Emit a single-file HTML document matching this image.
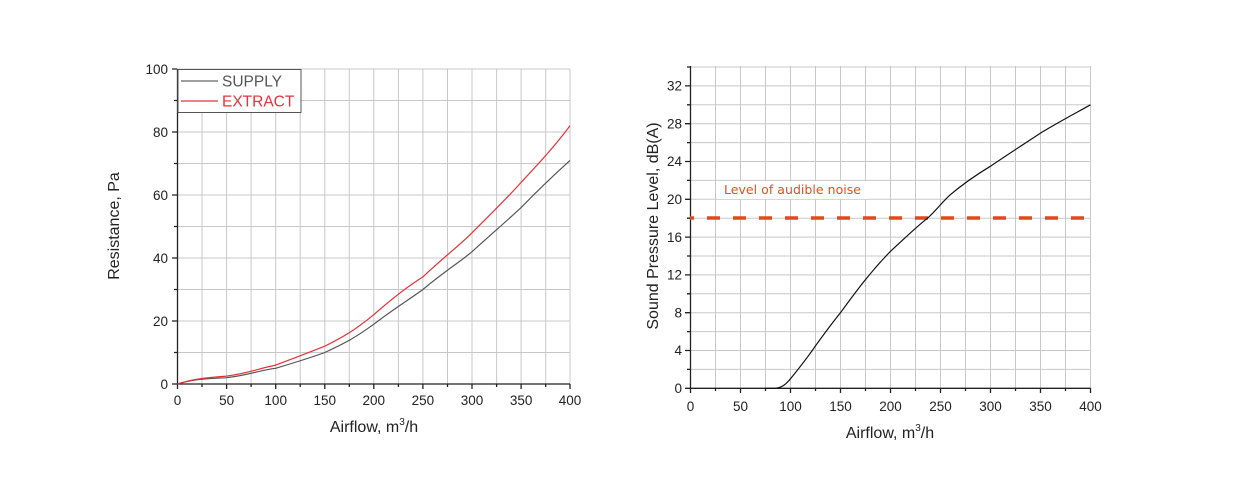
<!DOCTYPE html>
<html><head><meta charset="utf-8"><style>
html,body{margin:0;padding:0;background:#fff;}
svg{display:block;font-family:"Liberation Sans",Arial,sans-serif;}
</style></head><body>
<svg width="1237" height="503" viewBox="0 0 1237 503" xmlns="http://www.w3.org/2000/svg">
<!-- LEFT CHART -->
<g stroke="#c8c8c8" stroke-width="1">
<line x1="202" y1="69" x2="202" y2="384"/><line x1="226.6" y1="69" x2="226.6" y2="384"/><line x1="251.1" y1="69" x2="251.1" y2="384"/><line x1="275.7" y1="69" x2="275.7" y2="384"/><line x1="300.2" y1="69" x2="300.2" y2="384"/><line x1="324.8" y1="69" x2="324.8" y2="384"/><line x1="349.3" y1="69" x2="349.3" y2="384"/><line x1="373.8" y1="69" x2="373.8" y2="384"/><line x1="398.4" y1="69" x2="398.4" y2="384"/><line x1="422.9" y1="69" x2="422.9" y2="384"/><line x1="447.5" y1="69" x2="447.5" y2="384"/><line x1="472" y1="69" x2="472" y2="384"/><line x1="496.6" y1="69" x2="496.6" y2="384"/><line x1="521.1" y1="69" x2="521.1" y2="384"/><line x1="545.7" y1="69" x2="545.7" y2="384"/><line x1="570" y1="69" x2="570" y2="384"/>
<line x1="177" y1="352.5" x2="570" y2="352.5"/><line x1="177" y1="321" x2="570" y2="321"/><line x1="177" y1="289.5" x2="570" y2="289.5"/><line x1="177" y1="258" x2="570" y2="258"/><line x1="177" y1="226.5" x2="570" y2="226.5"/><line x1="177" y1="195" x2="570" y2="195"/><line x1="177" y1="163.5" x2="570" y2="163.5"/><line x1="177" y1="132" x2="570" y2="132"/><line x1="177" y1="100.5" x2="570" y2="100.5"/><line x1="177" y1="69" x2="570" y2="69"/>
</g>
<g stroke="#222" stroke-width="1.3" fill="none">
<line x1="177.5" y1="69" x2="177.5" y2="384"/><line x1="177" y1="384" x2="570" y2="384"/>
<path d="M172 69h5M172 132h5M172 195h5M172 258h5M172 321h5M172 384h5M174 100.5h3M174 163.5h3M174 226.5h3M174 289.5h3M174 352.5h3"/>
<path d="M177.5 384v5M226.6 384v5M275.7 384v5M324.8 384v5M373.8 384v5M422.9 384v5M472 384v5M521.1 384v5M570 384v5M202 384v3M251.1 384v3M300.2 384v3M349.3 384v3M398.4 384v3M447.5 384v3M496.6 384v3M545.7 384v3"/>
</g>
<g font-size="13.5" fill="#222" text-anchor="end">
<text x="168" y="74">100</text><text x="168" y="137">80</text><text x="168" y="200">60</text><text x="168" y="263">40</text><text x="168" y="326">20</text><text x="168" y="389">0</text>
</g>
<g font-size="13.5" fill="#222" text-anchor="middle">
<text x="177.5" y="405">0</text><text x="226.6" y="405">50</text><text x="275.7" y="405">100</text><text x="324.8" y="405">150</text><text x="373.8" y="405">200</text><text x="422.9" y="405">250</text><text x="472" y="405">300</text><text x="521.1" y="405">350</text><text x="570" y="405">400</text>
</g>
<text x="374" y="432" font-size="16" fill="#222" text-anchor="middle">Airflow, m<tspan font-size="10" dy="-7">3</tspan><tspan dy="7">/h</tspan></text>
<text transform="translate(119 226) rotate(-90)" font-size="16" fill="#222" text-anchor="middle">Resistance, Pa</text>
<path fill="none" stroke="#555" stroke-width="1.2" d="M177.5 384 C190 380,200 379,226.6 377.7 C250 375,260 370,275.7 368.3 C300 361,310 358,324.8 352.5 C345 343,355 338,373.8 324.2 C395 308,410 299,422.9 289.5 C445 271,460 262,472 251.7 C495 231,510 218,521.1 207.6 C540 188,555 174,570 160.4"/>
<path fill="none" stroke="#e8303a" stroke-width="1.2" d="M177.5 384 C190 380,200 378,226.6 376.1 C250 373,260 368,275.7 365.1 C300 356,310 352,324.8 346.2 C345 336,355 330,373.8 314.7 C395 296,410 285,422.9 276.9 C445 256,460 245,472 232.8 C495 210,510 195,521.1 182.4 C540 162,555 146,570 125.7"/>
<rect x="178" y="69.5" width="123" height="43" fill="#fff" stroke="#555" stroke-width="1"/>
<line x1="181" y1="81" x2="218" y2="81" stroke="#666" stroke-width="1.2"/>
<line x1="181" y1="101" x2="218" y2="101" stroke="#e8303a" stroke-width="1.2"/>
<text x="222" y="86.5" font-size="15.5" fill="#555">SUPPLY</text>
<text x="222" y="106.5" font-size="15.5" fill="#e8303a">EXTRACT</text>

<!-- RIGHT CHART -->
<g stroke="#c8c8c8" stroke-width="1">
<line x1="715.5" y1="66" x2="715.5" y2="388"/><line x1="740.5" y1="66" x2="740.5" y2="388"/><line x1="765.5" y1="66" x2="765.5" y2="388"/><line x1="790.5" y1="66" x2="790.5" y2="388"/><line x1="815.5" y1="66" x2="815.5" y2="388"/><line x1="840.5" y1="66" x2="840.5" y2="388"/><line x1="865.5" y1="66" x2="865.5" y2="388"/><line x1="890.5" y1="66" x2="890.5" y2="388"/><line x1="915.5" y1="66" x2="915.5" y2="388"/><line x1="940.5" y1="66" x2="940.5" y2="388"/><line x1="965.5" y1="66" x2="965.5" y2="388"/><line x1="990.5" y1="66" x2="990.5" y2="388"/><line x1="1015.5" y1="66" x2="1015.5" y2="388"/><line x1="1040.5" y1="66" x2="1040.5" y2="388"/><line x1="1065.5" y1="66" x2="1065.5" y2="388"/><line x1="1090.5" y1="66" x2="1090.5" y2="388"/>
<line x1="690" y1="369.4" x2="1090" y2="369.4"/><line x1="690" y1="350.5" x2="1090" y2="350.5"/><line x1="690" y1="331.6" x2="1090" y2="331.6"/><line x1="690" y1="312.7" x2="1090" y2="312.7"/><line x1="690" y1="293.8" x2="1090" y2="293.8"/><line x1="690" y1="274.9" x2="1090" y2="274.9"/><line x1="690" y1="256" x2="1090" y2="256"/><line x1="690" y1="237.1" x2="1090" y2="237.1"/><line x1="690" y1="218.2" x2="1090" y2="218.2"/><line x1="690" y1="199.3" x2="1090" y2="199.3"/><line x1="690" y1="180.4" x2="1090" y2="180.4"/><line x1="690" y1="161.5" x2="1090" y2="161.5"/><line x1="690" y1="142.6" x2="1090" y2="142.6"/><line x1="690" y1="123.7" x2="1090" y2="123.7"/><line x1="690" y1="104.8" x2="1090" y2="104.8"/><line x1="690" y1="85.9" x2="1090" y2="85.9"/><line x1="690" y1="67" x2="1090" y2="67"/>
</g>
<g stroke="#222" stroke-width="1.3" fill="none">
<line x1="690.5" y1="66" x2="690.5" y2="388"/><line x1="690" y1="388.3" x2="1090.5" y2="388.3"/>
<path d="M685 388.3h5M685 350.5h5M685 312.7h5M685 274.9h5M685 237.1h5M685 199.3h5M685 161.5h5M685 123.7h5M685 85.9h5M687 369.4h3M687 331.6h3M687 293.8h3M687 256h3M687 218.2h3M687 180.4h3M687 142.6h3M687 104.8h3M687 67h3"/>
<path d="M690.5 388v5M740.5 388v5M790.5 388v5M840.5 388v5M890.5 388v5M940.5 388v5M990.5 388v5M1040.5 388v5M1090.5 388v5M715.5 388v3M765.5 388v3M815.5 388v3M865.5 388v3M915.5 388v3M965.5 388v3M1015.5 388v3M1065.5 388v3"/>
</g>
<g font-size="13.5" fill="#222" text-anchor="end">
<text x="682" y="393">0</text><text x="682" y="355.2">4</text><text x="682" y="317.4">8</text><text x="682" y="279.6">12</text><text x="682" y="241.8">16</text><text x="682" y="204">20</text><text x="682" y="166.2">24</text><text x="682" y="128.4">28</text><text x="682" y="90.6">32</text>
</g>
<g font-size="13.5" fill="#222" text-anchor="middle">
<text x="690.5" y="411">0</text><text x="740.5" y="411">50</text><text x="790.5" y="411">100</text><text x="840.5" y="411">150</text><text x="890.5" y="411">200</text><text x="940.5" y="411">250</text><text x="990.5" y="411">300</text><text x="1040.5" y="411">350</text><text x="1090.5" y="411">400</text>
</g>
<text x="890" y="438" font-size="16" fill="#222" text-anchor="middle">Airflow, m<tspan font-size="10" dy="-7">3</tspan><tspan dy="7">/h</tspan></text>
<text transform="translate(658 226) rotate(-90)" font-size="16" fill="#222" text-anchor="middle">Sound Pressure Level, dB(A)</text>
<rect x="718" y="181" width="150" height="18" fill="#fff"/>
<text x="724" y="194" font-size="12.5" fill="#e0501e" font-family="DejaVu Sans, sans-serif" textLength="137">Level of audible noise</text>
<line x1="690" y1="218" x2="1090" y2="218" stroke="#e04a1a" stroke-width="3.5" stroke-dasharray="13 13" stroke-dashoffset="9"/>
<path fill="none" stroke="#111" stroke-width="1.2" d="M765 388.3 L775 388.3 C782 388,786 384,790.5 378.8 C800 367,808 357,815.5 345.8 C824 334,832 323,840.5 312.7 C849 301,857 290,865.5 279.6 C874 269,882 260,890.5 251.3 C903 240,915 228,927.5 218.2 C935 212,943 201,950.5 194.6 C963 184,976 175,990.5 166.2 C1007 155,1024 144,1040.5 133.1 C1057 123,1074 114,1090.5 104.8"/>
</svg>
</body></html>
